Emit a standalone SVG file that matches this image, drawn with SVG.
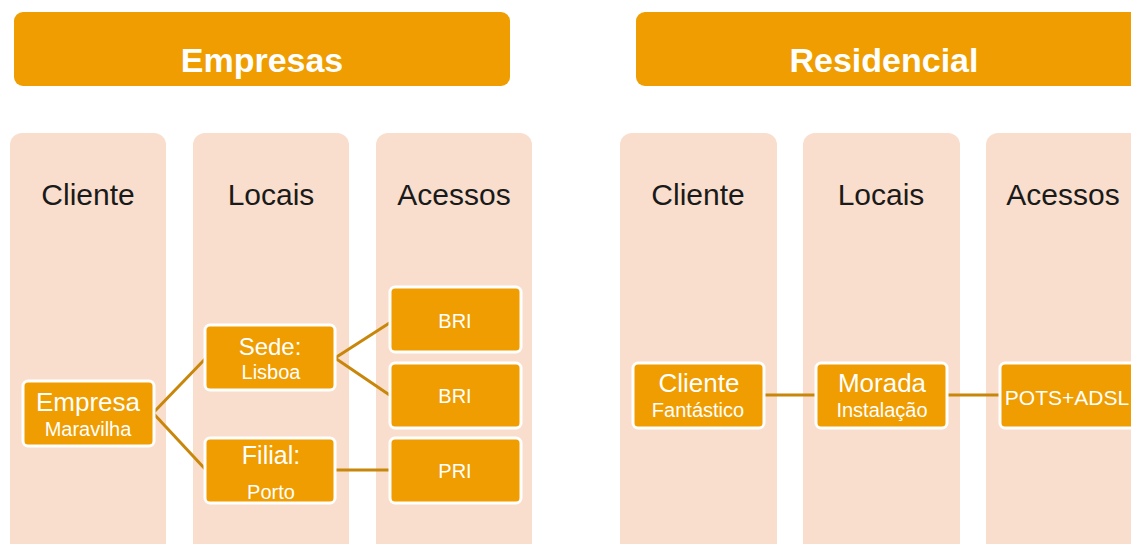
<svg xmlns="http://www.w3.org/2000/svg" width="1131" height="544" viewBox="0 0 1131 544">
<style>
.hdr{fill:#EF9D00}
.col{fill:#F9DECD}
.node rect{fill:#EF9D00;stroke:#ffffff;stroke-width:3}
.t{font-family:"Liberation Sans",Arial,sans-serif;fill:#ffffff;text-anchor:middle}
.s{font-size:20px}
.title{font-family:"Liberation Sans",Arial,sans-serif;font-weight:bold;font-size:34px;fill:#ffffff;text-anchor:middle}
.ch{font-family:"Liberation Sans",Arial,sans-serif;font-size:30px;fill:#1a1a1a;text-anchor:middle}
.conn line{stroke:#C8870A;stroke-width:3}
</style>
<rect width="1131" height="544" fill="#ffffff"/>
<g id="hdr-empresas"><rect class="hdr" x="14" y="12" width="496" height="74" rx="9"/><text class="title" x="262" y="72">Empresas</text></g>
<g id="hdr-residencial"><rect class="hdr" x="636" y="12" width="510" height="74" rx="9"/><text class="title" x="884" y="72">Residencial</text></g>
<g id="col-e-cliente"><rect class="col" x="10" y="133" width="156" height="430" rx="12"/><text class="ch" x="88" y="205">Cliente</text></g>
<g id="col-e-locais"><rect class="col" x="193" y="133" width="156" height="430" rx="12"/><text class="ch" x="271" y="205">Locais</text></g>
<g id="col-e-acessos"><rect class="col" x="376" y="133" width="156" height="430" rx="12"/><text class="ch" x="454" y="205">Acessos</text></g>
<g id="col-r-cliente"><rect class="col" x="620" y="133" width="157" height="430" rx="12"/><text class="ch" x="698" y="205">Cliente</text></g>
<g id="col-r-locais"><rect class="col" x="803" y="133" width="157" height="430" rx="12"/><text class="ch" x="881" y="205">Locais</text></g>
<g id="col-r-acessos"><rect class="col" x="986" y="133" width="170" height="430" rx="12"/><text class="ch" x="1063" y="205">Acessos</text></g>
<g class="conn" id="connectors">
<line x1="153" y1="413" x2="206" y2="358"/>
<line x1="153" y1="413" x2="206" y2="470"/>
<line x1="335" y1="358" x2="391" y2="322"/>
<line x1="335" y1="358" x2="391" y2="396"/>
<line x1="335" y1="470" x2="391" y2="470"/>
<line x1="764" y1="395" x2="816" y2="395"/>
<line x1="947" y1="395" x2="1000" y2="395"/>
</g>
<g class="node" id="n-empresa"><rect x="23" y="381" width="131" height="65" rx="5"/><text class="t" x="88" y="411" font-size="26">Empresa</text><text class="t s" x="88" y="436">Maravilha</text></g>
<g class="node" id="n-sede"><rect x="205" y="325" width="130" height="65" rx="5"/><text class="t" x="270" y="355" font-size="24">Sede:</text><text class="t s" x="271" y="379">Lisboa</text></g>
<g class="node" id="n-filial"><rect x="205" y="438" width="130" height="65" rx="5"/><text class="t" x="271" y="464" font-size="25">Filial:</text><text class="t s" x="271" y="499">Porto</text></g>
<g class="node" id="n-bri1"><rect x="390" y="287" width="131" height="65" rx="5"/><text class="t s" x="455" y="328">BRI</text></g>
<g class="node" id="n-bri2"><rect x="390" y="363" width="131" height="65" rx="5"/><text class="t s" x="455" y="403">BRI</text></g>
<g class="node" id="n-pri"><rect x="390" y="438" width="131" height="65" rx="5"/><text class="t s" x="455" y="478">PRI</text></g>
<g class="node" id="n-cliente"><rect x="633" y="363" width="131" height="65" rx="5"/><text class="t" x="699" y="392" font-size="26">Cliente</text><text class="t s" x="698" y="417">Fantástico</text></g>
<g class="node" id="n-morada"><rect x="816" y="363" width="131" height="65" rx="5"/><text class="t" x="882" y="392" font-size="26">Morada</text><text class="t s" x="882" y="417">Instalação</text></g>
<g class="node" id="n-pots"><rect x="1000" y="363" width="140" height="65" rx="5"/><text class="t" x="1067" y="405" font-size="21">POTS+ADSL</text></g>
</svg>
